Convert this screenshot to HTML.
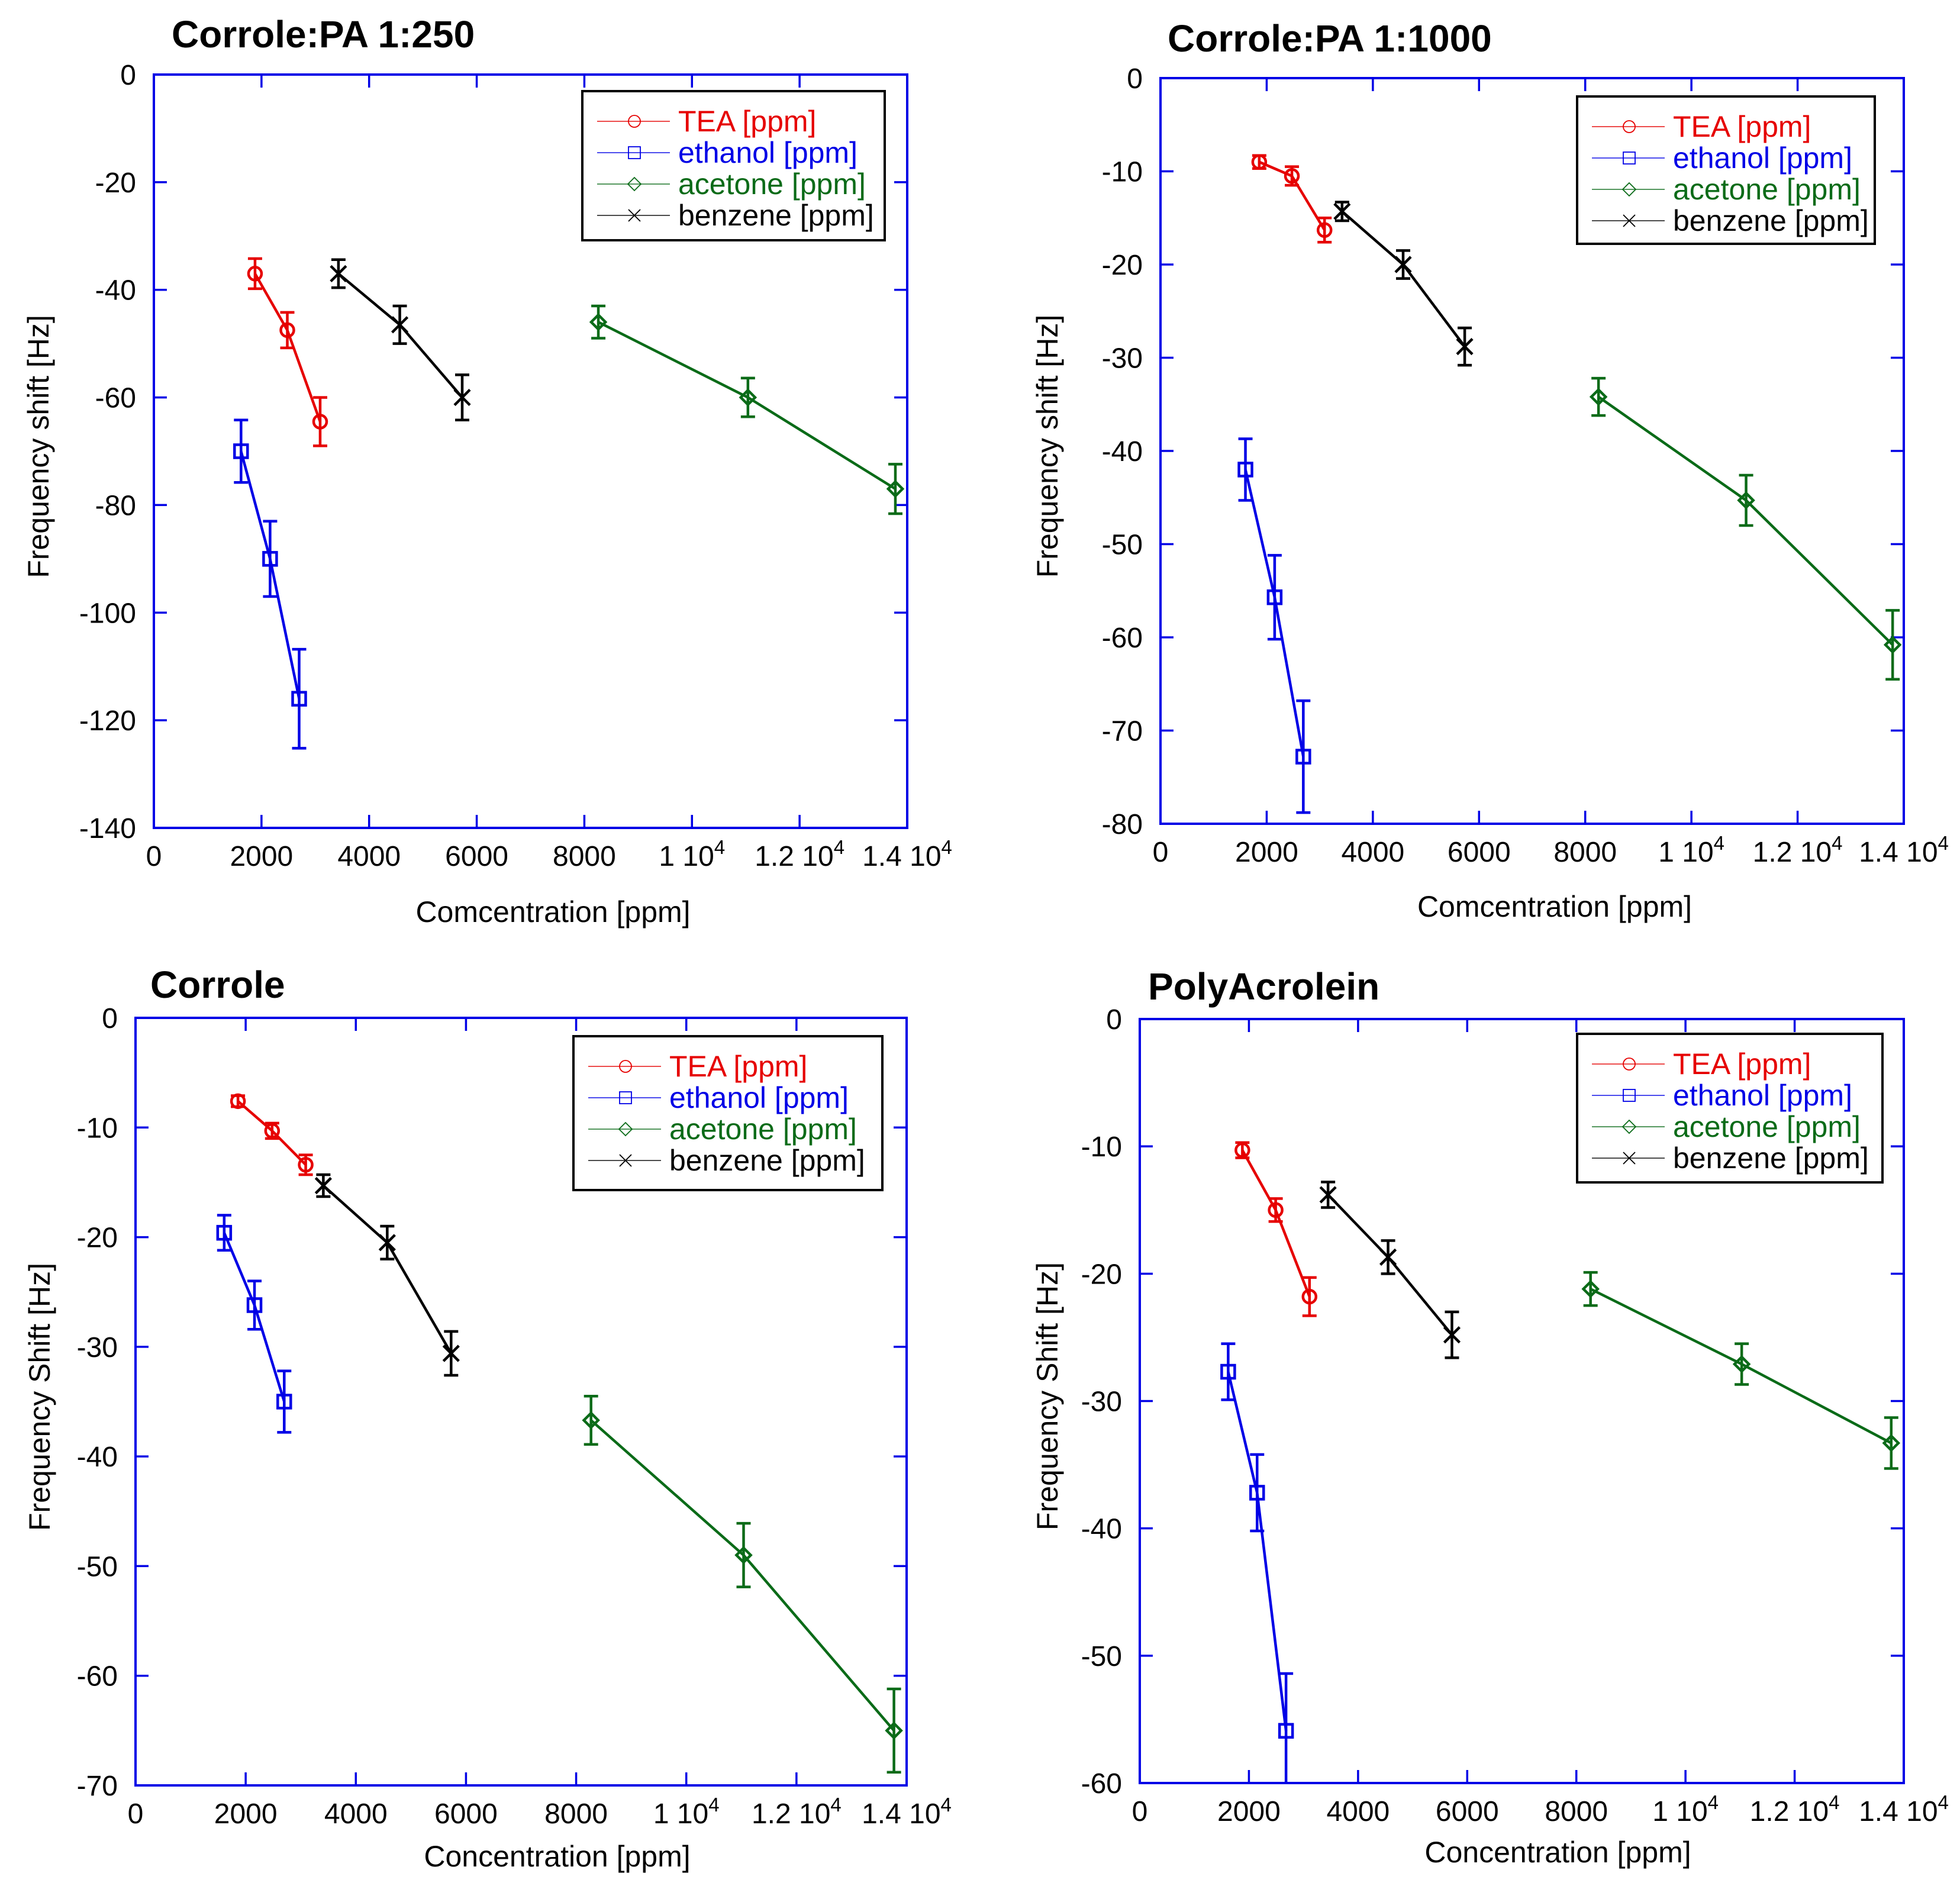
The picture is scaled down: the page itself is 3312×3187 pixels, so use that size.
<!DOCTYPE html>
<html><head><meta charset="utf-8">
<style>
html,body{margin:0;padding:0;background:#fff;}
svg{display:block;}
text{font-family:"Liberation Sans",Arial,sans-serif;}
</style></head>
<body>
<svg id="fig" width="3312" height="3187" viewBox="0 0 3312 3187" xmlns="http://www.w3.org/2000/svg"></svg>
<script>
// ---- data (x in ppm, y in Hz, err in Hz) ----
const seriesNames = ["TEA [ppm]","ethanol [ppm]","acetone [ppm]","benzene [ppm]"];
// Panel 1: Corrole:PA 1:250
const p1TeaX=[1880,2480,3090], p1TeaY=[-37,-47.5,-64.5], p1TeaE=[2.8,3.3,4.5];
const p1EthX=[1620,2160,2700], p1EthY=[-70,-90,-116], p1EthE=[5.8,7,9.2];
const p1AceX=[8260,11040,13780], p1AceY=[-46,-60,-77], p1AceE=[3,3.6,4.6];
const p1BenX=[3430,4570,5730], p1BenY=[-37,-46.5,-60], p1BenE=[2.6,3.5,4.2];
// Panel 2: Corrole:PA 1:1000
const p2TeaX=[1860,2475,3090], p2TeaY=[-9,-10.5,-16.3], p2TeaE=[0.7,1,1.3];
const p2EthX=[1600,2150,2690], p2EthY=[-42,-55.7,-72.8], p2EthE=[3.3,4.5,6];
const p2AceX=[8250,11030,13790], p2AceY=[-34.2,-45.3,-60.8], p2AceE=[2,2.7,3.7];
const p2BenX=[3420,4570,5730], p2BenY=[-14.3,-20,-28.8], p2BenE=[1,1.5,2];
// Panel 3: Corrole
const p3TeaX=[1860,2480,3090], p3TeaY=[-7.6,-10.3,-13.4], p3TeaE=[0.5,0.7,0.9];
const p3EthX=[1610,2160,2700], p3EthY=[-19.6,-26.2,-35], p3EthE=[1.6,2.2,2.8];
const p3AceX=[8270,11040,13770], p3AceY=[-36.7,-49,-65], p3AceE=[2.2,2.9,3.8];
const p3BenX=[3410,4570,5730], p3BenY=[-15.3,-20.5,-30.6], p3BenE=[1,1.5,2];
// Panel 4: PolyAcrolein
const p4TeaX=[1880,2490,3110], p4TeaY=[-10.3,-15,-21.8], p4TeaE=[0.6,0.9,1.5];
const p4EthX=[1620,2150,2680], p4EthY=[-27.7,-37.2,-55.9], p4EthE=[2.2,3,4.5];
const p4AceX=[8260,11030,13770], p4AceY=[-21.2,-27.1,-33.3], p4AceE=[1.3,1.6,2];
const p4BenX=[3450,4550,5720], p4BenY=[-13.8,-18.7,-24.8], p4BenE=[1,1.3,1.8];

const xTickVals=[0,2000,4000,6000,8000,10000,12000,14000];
const xTickLabels=["0","2000","4000","6000","8000","1 10^4","1.2 10^4","1.4 10^4"];
const p1YTicks=[0,-20,-40,-60,-80,-100,-120,-140];
const p2YTicks=[0,-10,-20,-30,-40,-50,-60,-70,-80];
const p3YTicks=[0,-10,-20,-30,-40,-50,-60,-70];
const p4YTicks=[0,-10,-20,-30,-40,-50,-60];

const NS="http://www.w3.org/2000/svg";
const svg=document.getElementById('fig');
const COLORS=["#e60000","#0000e6","#0b6b18","#000000"];
const MARKERS=["circle","square","diamond","cross"];

function mk(tag,attrs,parent){const e=document.createElementNS(NS,tag);for(const k in attrs)e.setAttribute(k,attrs[k]);(parent||svg).appendChild(e);return e;}

function marker(g,type,cx,cy,color,s,sw){
  let e;
  if(type==="circle"){e=mk('circle',{cx:cx,cy:cy,r:s*0.5,fill:'none',stroke:color,'stroke-width':sw},g);}
  else if(type==="square"){e=mk('rect',{x:cx-s*0.5,y:cy-s*0.5,width:s,height:s,fill:'none',stroke:color,'stroke-width':sw},g);}
  else if(type==="diamond"){const h=s*0.55;e=mk('polygon',{points:`${cx},${cy-h} ${cx+h},${cy} ${cx},${cy+h} ${cx-h},${cy}`,fill:'none',stroke:color,'stroke-width':sw},g);}
  else {const h=s*0.5;e=mk('path',{d:`M${cx-h},${cy-h}L${cx+h},${cy+h}M${cx+h},${cy-h}L${cx-h},${cy+h}`,fill:'none',stroke:color,'stroke-width':sw},g);}
  
  
  return e;
}

function panel(cfg){
  const {L,R,T,B,ymin,yticks,series,title,tx,ty,xlab,xly,xlo,ylab,ylx,leg}=cfg;
  const g=mk('g',{});
  
  
  const X=v=>L+(v/14000)*(R-L);
  const Y=v=>T+(v/ymin)*(B-T);
  const clipId=cfg.name+'-clip';
  const cp=mk('clipPath',{id:clipId},g);mk('rect',{x:L,y:T,width:R-L,height:B-T},cp);
  const t=mk('text',{x:tx,y:ty,'font-size':64,'font-weight':'bold',fill:'#000'},g);t.textContent=title;
  
  
  const tk=mk('g',{stroke:'#0000e6','stroke-width':3.5},g);
  xTickVals.forEach((v,i)=>{
    const x=X(v);
    if(i>0&&i<xTickVals.length-1){mk('line',{x1:x,y1:B,x2:x,y2:B-22},tk);mk('line',{x1:x,y1:T,x2:x,y2:T+22},tk);}
    const lab=xTickLabels[i];
    const te=mk('text',{x:x,y:B+64,'font-size':48,'text-anchor':'middle',fill:'#000'},g);
    if(lab.indexOf('^')>=0){const p=lab.split('^');te.textContent=p[0];const s=mk('tspan',{dy:-20,'font-size':33},te);s.textContent=p[1];}
    else te.textContent=lab;
    
    
  });
  yticks.forEach((v,i)=>{
    const y=Y(v);
    if(i>0&&i<yticks.length-1){mk('line',{x1:L,y1:y,x2:L+22,y2:y},tk);mk('line',{x1:R,y1:y,x2:R-22,y2:y},tk);}
    const te=mk('text',{x:L-30,y:y+17,'font-size':48,'text-anchor':'end',fill:'#000'},g);te.textContent=String(v);
    
    
  });
  const fr=mk('rect',{x:L,y:T,width:R-L,height:B-T,fill:'none',stroke:'#0000e6','stroke-width':4},g);
  
  
  const xl=mk('text',{x:(L+R)/2+xlo,y:xly,'font-size':50,'text-anchor':'middle',fill:'#000'},g);xl.textContent=xlab;
  
  
  const yl=mk('text',{x:0,y:0,'font-size':50,'text-anchor':'middle',fill:'#000',transform:`translate(${ylx},${(T+B)/2-8}) rotate(-90)`},g);yl.textContent=ylab;
  
  
  series.forEach((s,si)=>{
    const c=COLORS[si];
    const sg=mk('g',{'clip-path':`url(#${clipId})`},g);
    
    
    const pts=s.x.map((v,i)=>X(v)+','+Y(s.y[i])).join(' ');
    mk('polyline',{points:pts,fill:'none',stroke:c,'stroke-width':4.5},sg);
    s.x.forEach((v,i)=>{
      const x=X(v),y1=Y(s.y[i]+s.e[i]),y2=Y(s.y[i]-s.e[i]);
      const eb=mk('path',{d:`M${x},${y1}L${x},${y2}M${x-12},${y1}L${x+12},${y1}M${x-12},${y2}L${x+12},${y2}`,stroke:c,'stroke-width':4.5,fill:'none'},sg);
      
      
      marker(sg,MARKERS[si],x,Y(s.y[i]),c,si===3?26:22,4.5);
    });
  });
  const lg=mk('g',{},g);
  
  
  mk('rect',{x:leg[0],y:leg[1],width:leg[2],height:leg[3],fill:'#fff',stroke:'#000','stroke-width':4},lg);
  seriesNames.forEach((n,i)=>{
    const y=leg[1]+51+i*53;
    const eg=mk('g',{},lg);
    
    
    mk('line',{x1:leg[0]+25,y1:y,x2:leg[0]+148,y2:y,stroke:COLORS[i],'stroke-width':1.8,opacity:0.8},eg);
    marker(eg,MARKERS[i],leg[0]+88,y,COLORS[i],20,1.8);
    const te=mk('text',{x:leg[0]+162,y:y+17,'font-size':50,fill:COLORS[i]},eg);te.textContent=n;
  });
}

panel({name:'panel-corrole-pa-250',L:260,R:1533,T:126,B:1399,ymin:-140,yticks:p1YTicks,
  series:[{x:p1TeaX,y:p1TeaY,e:p1TeaE},{x:p1EthX,y:p1EthY,e:p1EthE},{x:p1AceX,y:p1AceY,e:p1AceE},{x:p1BenX,y:p1BenY,e:p1BenE}],
  title:'Corrole:PA 1:250',tx:290,ty:80,xlab:'Comcentration [ppm]',xly:1558,xlo:38,ylab:'Frequency shift [Hz]',ylx:82,leg:[984,154,511,252]});
panel({name:'panel-corrole-pa-1000',L:1961,R:3217,T:132,B:1392,ymin:-80,yticks:p2YTicks,
  series:[{x:p2TeaX,y:p2TeaY,e:p2TeaE},{x:p2EthX,y:p2EthY,e:p2EthE},{x:p2AceX,y:p2AceY,e:p2AceE},{x:p2BenX,y:p2BenY,e:p2BenE}],
  title:'Corrole:PA 1:1000',tx:1973,ty:87,xlab:'Comcentration [ppm]',xly:1549,xlo:38,ylab:'Frequency shift [Hz]',ylx:1787,leg:[2665,163,503,249]});
panel({name:'panel-corrole',L:229,R:1532,T:1720,B:3017,ymin:-70,yticks:p3YTicks,
  series:[{x:p3TeaX,y:p3TeaY,e:p3TeaE},{x:p3EthX,y:p3EthY,e:p3EthE},{x:p3AceX,y:p3AceY,e:p3AceE},{x:p3BenX,y:p3BenY,e:p3BenE}],
  title:'Corrole',tx:254,ty:1686,xlab:'Concentration [ppm]',xly:3154,xlo:61,ylab:'Frequency Shift [Hz]',ylx:84,leg:[969,1751,522,260]});
panel({name:'panel-polyacrolein',L:1926,R:3217,T:1722,B:3013,ymin:-60,yticks:p4YTicks,
  series:[{x:p4TeaX,y:p4TeaY,e:p4TeaE},{x:p4EthX,y:p4EthY,e:p4EthE},{x:p4AceX,y:p4AceY,e:p4AceE},{x:p4BenX,y:p4BenY,e:p4BenE}],
  title:'PolyAcrolein',tx:1940,ty:1689,xlab:'Concentration [ppm]',xly:3147,xlo:61,ylab:'Frequency Shift [Hz]',ylx:1787,leg:[2665,1747,516,251]});
</script>
</body></html>
